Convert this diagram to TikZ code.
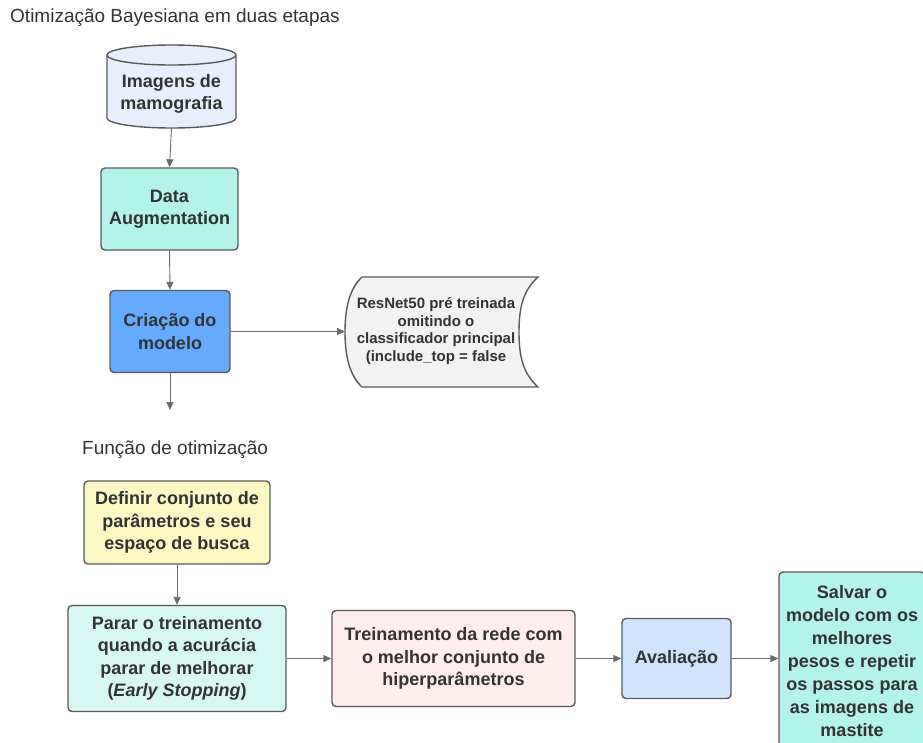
\documentclass[tikz,border=0pt]{standalone}
\usepackage{fontspec}
\setmainfont{Liberation Sans}
\usetikzlibrary{arrows.meta}
\definecolor{edge}{HTML}{5A5A5A}
\definecolor{txt}{HTML}{333333}
\definecolor{cylfill}{HTML}{E8EFFC}
\definecolor{mint}{HTML}{B3F3EA}
\definecolor{blue1}{HTML}{66AAFF}
\definecolor{grayf}{HTML}{F2F2F2}
\definecolor{yellowf}{HTML}{FBF8C4}
\definecolor{mintl}{HTML}{D7F8F2}
\definecolor{pinkf}{HTML}{FDEDED}
\definecolor{bluel}{HTML}{D0E3FD}
\tikzset{
  box/.style={draw=edge, line width=1.4pt, rounded corners=4pt, align=center,
    text=txt, font=\fontsize{18}{22.5}\selectfont\bfseries, inner sep=0pt},
  conn/.style={draw=edge!90, line width=0.9pt, -{Triangle[length=8pt,width=7pt]}},
  lbl/.style={text=txt, font=\fontsize{19}{22}\selectfont, anchor=west, inner sep=0pt}
}
\begin{document}
\begin{tikzpicture}[x=1pt,y=-1pt]
\useasboundingbox (0,0) rectangle (923,742);
\fill[white] (0,0) rectangle (923,742);

\node[lbl] (title) at (10,18) {Otimização Bayesiana em duas etapas};

% cylinder
\draw[draw=edge, line width=1.4pt, fill=cylfill]
  (107,55) -- (107,118) arc[start angle=180, end angle=0, x radius=64.5, y radius=10]
  -- (236,55) arc[start angle=0, end angle=-180, x radius=64.5, y radius=10] -- cycle;
\draw[draw=edge, line width=1.4pt]
  (107,55) arc[start angle=180, end angle=0, x radius=64.5, y radius=10];
\node[box, draw=none, minimum width=129pt, minimum height=63pt] (img) at (171.5,94) {Imagens de\\mamografia};
\coordinate (imgb) at (171.5,128);

\node[box, fill=mint, minimum width=137pt, minimum height=82pt] (da) at (169.5,209) {Data\\Augmentation};
\node[box, fill=blue1, minimum width=120pt, minimum height=82pt] (cm) at (170,331.5) {Criação do\\modelo};

% stored data shape
\draw[draw=edge, line width=1.4pt, fill=grayf]
  (362,277) -- (538,277)
  .. controls (524,290) and (519,305) .. (519,332)
  .. controls (519,359) and (524,374) .. (538,387)
  -- (362,387)
  .. controls (350,376) and (345,357) .. (345,332)
  .. controls (345,307) and (350,288) .. (362,277) -- cycle;
\node[box, draw=none, font=\fontsize{15}{17.8}\selectfont\bfseries] (rn) at (436,331) {ResNet50 pré treinada\\omitindo o\\classificador principal\\(include\_top = false};
\coordinate (rnw) at (345,331.5);
\coordinate (free) at (170,410);

\node[lbl] (fo) at (82,450) {Função de otimização};

\node[box, fill=yellowf, minimum width=186pt, minimum height=83pt] (def) at (177,522.5) {Definir conjunto de\\parâmetros e seu\\espaço de busca};
\node[box, fill=mintl, minimum width=218pt, minimum height=106pt] (par) at (177,658.5) {Parar o treinamento\\quando a acurácia\\parar de melhorar\\(\textit{Early Stopping})};
\node[box, fill=pinkf, minimum width=243pt, minimum height=96pt] (tr) at (453.5,658.5) {Treinamento da rede com\\o melhor conjunto de\\hiperparâmetros};
\node[box, fill=bluel, minimum width=109pt, minimum height=80pt] (av) at (676.5,658.5) {Avaliação};
\node[box, fill=mint, minimum width=146pt, minimum height=178pt, font=\fontsize{18}{23}\selectfont\bfseries] (sv) at (852,661) {Salvar o\\modelo com os\\melhores\\pesos e repetir\\os passos para\\as imagens de\\mastite};

\draw[conn] (imgb) -- (da.north);
\draw[conn] (da.south) -- (cm.north);
\draw[conn] (cm.east) -- (rnw);
\draw[conn] (cm.south) -- (free);
\draw[conn] (def.south) -- (par.north);
\draw[conn] (par.east) -- (tr.west);
\draw[conn] (tr.east) -- (av.west);
\draw[conn] (av.east) -- (sv.west |- av.east);
\end{tikzpicture}
\end{document}
